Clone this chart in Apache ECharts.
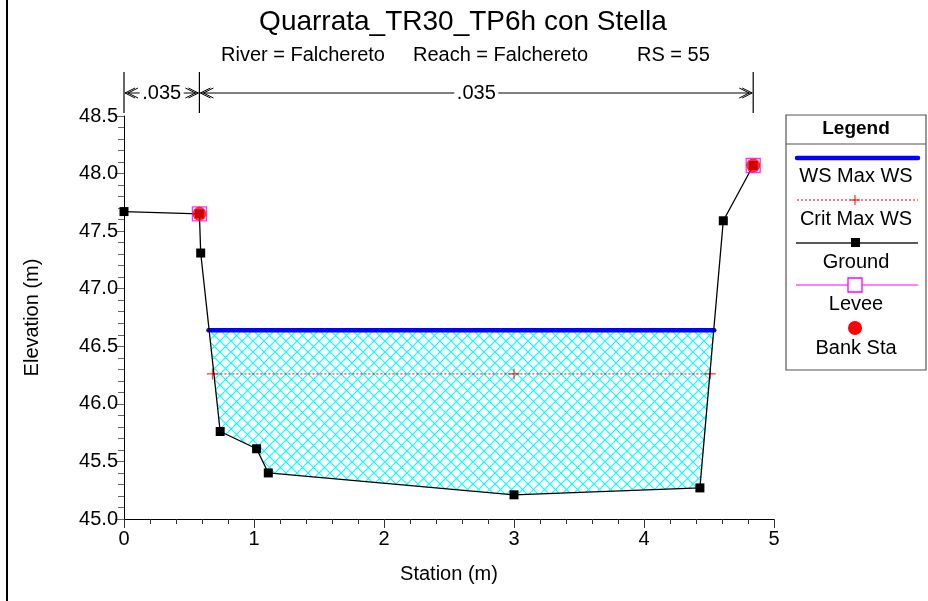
<!DOCTYPE html>
<html>
<head>
<meta charset="utf-8">
<script src="https://cdn.jsdelivr.net/npm/echarts@6/dist/echarts.min.js"></script>
<style>
html,body{margin:0;padding:0;background:#fff;}
#chart{width:928px;height:601px;}
</style>
</head>
<body>
<div id="chart"></div>
<script>
// ---- data ----
const titleText = 'Quarrata_TR30_TP6h con Stella';
const subRiver = 'River = Falchereto';
const subReach = 'Reach = Falchereto';
const subRS = 'RS = 55';

const groundX = [0, 0.58, 0.59, 0.74, 1.02, 1.11, 3.0, 4.43, 4.61, 4.84];
const groundY = [47.67, 47.65, 47.31, 45.76, 45.61, 45.40, 45.21, 45.27, 47.59, 48.07];

const wsX = [0.65, 4.54];
const wsY = [46.64, 46.64];

const critX = [0.68, 3.0, 4.51];
const critY = [46.26, 46.26, 46.26];

const bankX = [0.58, 4.84];
const bankY = [47.65, 48.07];

const leveeX = [0.58, 4.84];
const leveeY = [47.65, 48.07];

const nBreaks = [0, 0.58, 4.84];
const nValues = ['.035', '.035'];

const xTicks = [0, 1, 2, 3, 4, 5];
const yTicks = [45.0, 45.5, 46.0, 46.5, 47.0, 47.5, 48.0, 48.5];

const legendNames = ['WS Max WS', 'Crit Max WS', 'Ground', 'Levee', 'Bank Sta'];

// ---- helpers ----
const zip = (a, b) => a.map((v, i) => [v, b[i]]);
const FONT = '"Liberation Sans", Arial, sans-serif';

function makeHatch() {
  const s = 11;
  const c = document.createElement('canvas');
  c.width = s; c.height = s;
  const g = c.getContext('2d');
  g.fillStyle = '#ffffff';
  g.fillRect(0, 0, s, s);
  g.strokeStyle = '#00ffff';
  g.lineWidth = 1.15;
  g.beginPath();
  g.moveTo(-1, -1); g.lineTo(s + 1, s + 1);
  g.moveTo(-1, s + 1); g.lineTo(s + 1, -1);
  g.stroke();
  return c;
}
const hatch = makeHatch();

const chart = echarts.init(document.getElementById('chart'));

function renderWater(params, api) {
  const pts = [api.coord([wsX[0], wsY[0]])];
  for (let i = 0; i < groundX.length; i++) {
    if (groundX[i] > wsX[0] && groundX[i] < wsX[1]) pts.push(api.coord([groundX[i], groundY[i]]));
  }
  pts.push(api.coord([wsX[1], wsY[1]]));
  return { type: 'polygon', shape: { points: pts }, style: { fill: { image: hatch, repeat: 'repeat' }, stroke: null } };
}

function chevron(x, y, dir) {
  const out = [];
  [0, 3].forEach(off => {
    const tx = x - dir * off;
    out.push({ type: 'polyline', shape: { points: [[tx - dir * 10, y - 5], [tx, y], [tx - dir * 10, y + 5]] },
      style: { stroke: '#000', lineWidth: 1, fill: null } });
  });
  return out;
}

function renderN(params, api) {
  const top = api.coord([0, 48.5])[1];
  const yl = top - 23;
  const children = [];
  const xs = nBreaks.map(v => api.coord([v, 48.5])[0]);
  xs.forEach(x => {
    children.push({ type: 'line', shape: { x1: x, y1: top - 44, x2: x, y2: top - 3 }, style: { stroke: '#000', lineWidth: 1.2 } });
  });
  for (let i = 0; i < nValues.length; i++) {
    const a = xs[i], b = xs[i + 1];
    const mid = (a + b) / 2;
    const tw = 44;
    children.push(...chevron(a + 1, yl, -1));
    children.push(...chevron(b - 1, yl, 1));
    if (b - a > tw + 30) {
      children.push({ type: 'line', shape: { x1: a + 1, y1: yl, x2: mid - tw / 2, y2: yl }, style: { stroke: '#000', lineWidth: 1 } });
      children.push({ type: 'line', shape: { x1: mid + tw / 2, y1: yl, x2: b - 1, y2: yl }, style: { stroke: '#000', lineWidth: 1 } });
    }
    children.push({ type: 'text', x: mid, y: yl, style: { text: nValues[i], font: '20px ' + FONT, fill: '#000', align: 'center', verticalAlign: 'middle' } });
  }
  return { type: 'group', children };
}

// legend graphic
const LX = 786, LW = 140, LT = 115, LB = 370;
const lc = LX + LW / 2;
const legendGraphic = [
  { type: 'rect', shape: { x: LX, y: LT, width: LW, height: LB - LT }, style: { fill: '#fff', stroke: '#555', lineWidth: 1.2 } },
  { type: 'line', shape: { x1: LX, y1: 144, x2: LX + LW, y2: 144 }, style: { stroke: '#555', lineWidth: 1.2 } },
  { type: 'text', x: lc, y: 129, style: { text: 'Legend', font: 'bold 19px ' + FONT, fill: '#000', align: 'center', verticalAlign: 'middle' } },
  { type: 'line', shape: { x1: 797, y1: 158, x2: 918, y2: 158 }, style: { stroke: '#0000ff', lineWidth: 4.5, lineCap: 'round' } },
  { type: 'text', x: lc, y: 176, style: { text: legendNames[0], font: '20px ' + FONT, fill: '#000', align: 'center', verticalAlign: 'middle' } },
  { type: 'line', shape: { x1: 797, y1: 200, x2: 918, y2: 200 }, style: { stroke: '#ff0000', lineWidth: 1, lineDash: [2, 2] } },
  { type: 'line', shape: { x1: lc - 1, y1: 195, x2: lc - 1, y2: 205 }, style: { stroke: '#ff0000', lineWidth: 1 } },
  { type: 'line', shape: { x1: lc - 6, y1: 200, x2: lc + 4, y2: 200 }, style: { stroke: '#ff0000', lineWidth: 1 } },
  { type: 'text', x: lc, y: 219, style: { text: legendNames[1], font: '20px ' + FONT, fill: '#000', align: 'center', verticalAlign: 'middle' } },
  { type: 'line', shape: { x1: 796, y1: 243, x2: 918, y2: 243 }, style: { stroke: '#222', lineWidth: 1.3 } },
  { type: 'rect', shape: { x: lc - 5, y: 238, width: 9, height: 9 }, style: { fill: '#000' } },
  { type: 'text', x: lc, y: 262, style: { text: legendNames[2], font: '20px ' + FONT, fill: '#000', align: 'center', verticalAlign: 'middle' } },
  { type: 'line', shape: { x1: 796, y1: 285, x2: 918, y2: 285 }, style: { stroke: '#ff00ff', lineWidth: 1 } },
  { type: 'rect', shape: { x: lc - 8, y: 278, width: 14, height: 14 }, style: { fill: '#fff', stroke: '#ff00ff', lineWidth: 1.3 } },
  { type: 'text', x: lc, y: 304, style: { text: legendNames[3], font: '20px ' + FONT, fill: '#000', align: 'center', verticalAlign: 'middle' } },
  { type: 'circle', shape: { cx: lc - 1, cy: 328, r: 7 }, style: { fill: '#ff0000' } },
  { type: 'text', x: lc, y: 348, style: { text: legendNames[4], font: '20px ' + FONT, fill: '#000', align: 'center', verticalAlign: 'middle' } }
];

const option = {
  animation: false,
  backgroundColor: '#fff',
  textStyle: { fontFamily: FONT },
  grid: { left: 124, right: 154, top: 116, bottom: 82, containLabel: false },
  xAxis: {
    type: 'value', min: 0, max: 5, interval: 1,
    name: 'Station (m)', nameLocation: 'middle', nameGap: 45,
    nameTextStyle: { fontSize: 20, color: '#000', fontFamily: FONT },
    axisLine: { onZero: false, lineStyle: { color: '#000', width: 1 } },
    axisTick: { show: true, length: 9, lineStyle: { color: '#333' } },
    minorTick: { show: true, splitNumber: 5, length: 5, lineStyle: { color: '#333' } },
    splitLine: { show: false },
    axisLabel: { fontSize: 20, color: '#000', margin: 10, fontFamily: FONT,
      formatter: v => (xTicks.indexOf(v) >= 0 ? String(v) : '') }
  },
  yAxis: {
    type: 'value', min: 45, max: 48.5, interval: 0.5,
    name: 'Elevation (m)', nameLocation: 'middle', nameGap: 82, nameRotate: 90,
    nameTextStyle: { fontSize: 20, color: '#000', fontFamily: FONT },
    axisLine: { show: true, onZero: false, lineStyle: { color: '#000', width: 1 } },
    axisTick: { show: true, length: 9, lineStyle: { color: '#666' } },
    minorTick: { show: true, splitNumber: 5, length: 6, lineStyle: { color: '#666' } },
    splitLine: { show: false },
    axisLabel: { fontSize: 20, color: '#000', margin: 6, fontFamily: FONT,
      formatter: v => { const f = yTicks.find(t => Math.abs(t - v) < 1e-6); return f === undefined ? '' : f.toFixed(1); } }
  },
  graphic: [
    { type: 'rect', left: 6, top: 0, shape: { width: 2, height: 601 }, style: { fill: '#000' } },
    { type: 'text', x: 463, y: 22, style: { text: titleText, font: '28px ' + FONT, fill: '#000', align: 'center', verticalAlign: 'middle' } },
    { type: 'text', x: 221, y: 55, style: { text: subRiver, font: '20px ' + FONT, fill: '#000', align: 'left', verticalAlign: 'middle' } },
    { type: 'text', x: 413, y: 55, style: { text: subReach, font: '20px ' + FONT, fill: '#000', align: 'left', verticalAlign: 'middle' } },
    { type: 'text', x: 637, y: 55, style: { text: subRS, font: '20px ' + FONT, fill: '#000', align: 'left', verticalAlign: 'middle' } },
    ...legendGraphic
  ],
  series: [
    { type: 'custom', name: 'water', renderItem: renderWater, data: [[0, 45]], z: 1, silent: true },
    { type: 'line', name: 'Crit Max WS', data: zip([critX[0], critX[critX.length - 1]], [critY[0], critY[critY.length - 1]]),
      showSymbol: false, lineStyle: { color: '#ff0000', width: 1, type: [2, 2] }, z: 2 },
    { type: 'scatter', name: 'Crit markers', data: zip(critX, critY),
      symbol: 'path://M0,4.5h10v1h-10z M4.5,0h1v10h-1z', symbolSize: 11, itemStyle: { color: '#ff0000' }, z: 3 },
    { type: 'line', name: 'WS Max WS', data: zip(wsX, wsY), showSymbol: false,
      lineStyle: { color: '#0000ff', width: 4.5, cap: 'round' }, z: 4 },
    { type: 'line', name: 'Ground', data: zip(groundX, groundY), symbol: 'rect', symbolSize: 9,
      lineStyle: { color: '#000', width: 1.3 }, itemStyle: { color: '#000' }, z: 5 },
    { type: 'scatter', name: 'Levee', data: zip(leveeX, leveeY), symbol: 'rect', symbolSize: 14,
      itemStyle: { color: 'rgba(0,0,0,0)', borderColor: '#ff00ff', borderWidth: 1.3 }, z: 6 },
    { type: 'scatter', name: 'Bank Sta', data: zip(bankX, bankY), symbol: 'circle', symbolSize: 14,
      itemStyle: { color: '#ff0000' }, z: 7 },
    { type: 'custom', name: 'n values', renderItem: renderN, data: [[0, 48.5]], clip: false, z: 8, silent: true }
  ]
};
chart.setOption(option);
</script>
</body>
</html>
